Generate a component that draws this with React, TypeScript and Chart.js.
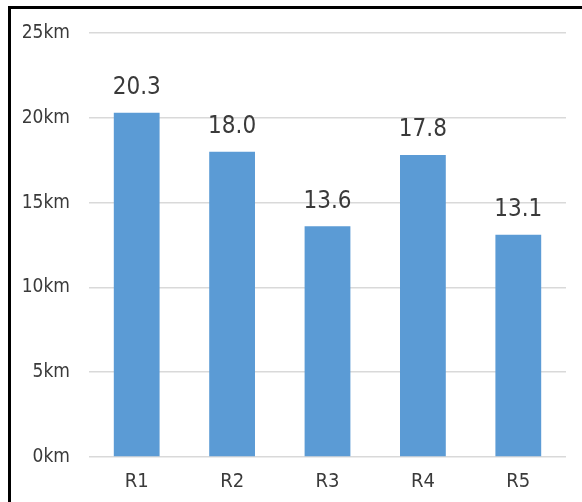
import React, { useEffect, useRef } from "react";
import { Chart, registerables } from "chart.js";

Chart.register(...registerables);

const categories = ["R1", "R2", "R3", "R4", "R5"];
const distances = [20.3, 18.0, 13.6, 17.8, 13.1];
const yTicks = [0, 5, 10, 15, 20, 25];

const FONT = "'DejaVu Sans Condensed', 'Roboto', sans-serif";

const valueLabels = {
  id: "valueLabels",
  afterDatasetsDraw(chart: any) {
    const ctx = chart.ctx;
    const meta = chart.getDatasetMeta(0);
    ctx.save();
    ctx.font = `24px ${FONT}`;
    ctx.fillStyle = "#3a3a3a";
    ctx.textAlign = "center";
    ctx.textBaseline = "bottom";
    meta.data.forEach((bar: any, i: number) => {
      ctx.fillText(distances[i].toFixed(1), bar.x, bar.y - 13);
    });
    ctx.restore();
  },
};

export default function App() {
  const ref = useRef<HTMLCanvasElement | null>(null);
  useEffect(() => {
    if (!ref.current) return;
    const chart = new Chart(ref.current, {
      type: "bar",
      data: {
        labels: categories,
        datasets: [
          {
            data: distances,
            backgroundColor: "#5B9BD5",
            borderWidth: 0,
            barPercentage: 0.48,
            categoryPercentage: 1,
          },
        ],
      },
      options: {
        animation: false,
        responsive: false,
        devicePixelRatio: 1,
        layout: { padding: { top: 33, right: 16, left: 0, bottom: 0 } },
        plugins: { legend: { display: false }, tooltip: { enabled: false } },
        scales: {
          x: {
            grid: { display: false, drawTicks: false },
            border: { display: false },
            ticks: { color: "#3a3a3a", font: { family: FONT, size: 20 }, padding: 13 },
            afterFit: (axis: any) => {
              axis.height = 45;
            },
          },
          y: {
            min: 0,
            max: 25,
            afterBuildTicks: (axis: any) => {
              axis.ticks = yTicks.map((v) => ({ value: v }));
            },
            grid: { color: "#d9d9d9", lineWidth: 1.5, drawTicks: false },
            border: { display: false },
            ticks: {
              color: "#3a3a3a",
              font: { family: FONT, size: 19 },
              padding: 19,
              callback: (v: any) => `${v}km`,
            },
            afterFit: (axis: any) => {
              axis.width = 89;
            },
          },
        },
      },
      plugins: [valueLabels],
    });
    return () => chart.destroy();
  }, []);

  return (
    <div>
      <div
        style={{
          position: "fixed",
          left: 8,
          top: 6,
          width: 640,
          height: 600,
          border: "3px solid #000",
          background: "#fff",
          zIndex: 0,
        }}
      />
      <canvas
        ref={ref}
        width={582}
        height={502}
        style={{ position: "fixed", left: 0, top: 0, width: 582, height: 502, zIndex: 1 }}
      />
    </div>
  );
}
